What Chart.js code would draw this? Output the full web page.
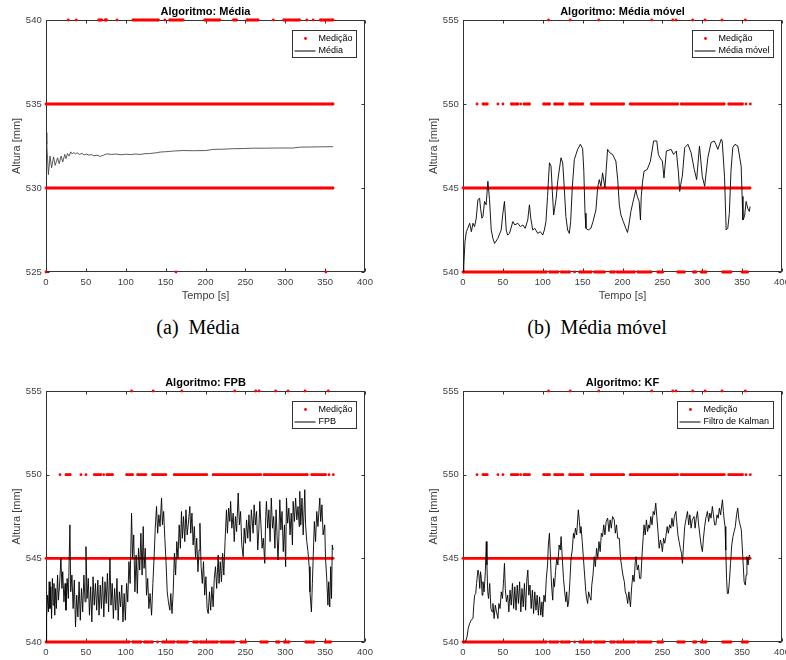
<!DOCTYPE html>
<html>
<head>
<meta charset="utf-8">
<script src="https://cdn.jsdelivr.net/npm/chart.js@4.4.1/dist/chart.umd.min.js"></script>
<style>
  body { margin: 0; background: #fff; width: 786px; height: 660px; position: relative; overflow: hidden; }
  .plot { position: absolute; }
  .cap { position: absolute; font-family: 'Liberation Serif', 'Times New Roman', serif; font-size: 20px; color: #000; white-space: nowrap; transform: translateX(-50%); }
</style>
</head>
<body>
<div class="plot" style="left:0;top:0;width:380px;height:303px"><canvas id="chartA"></canvas></div>
<div class="plot" style="left:417px;top:0;width:369px;height:303px"><canvas id="chartB"></canvas></div>
<div class="plot" style="left:0;top:371px;width:380px;height:289px"><canvas id="chartC"></canvas></div>
<div class="plot" style="left:417px;top:371px;width:369px;height:289px"><canvas id="chartD"></canvas></div>
<div class="cap" style="left:198px;top:316px">(a)&nbsp; Média</div>
<div class="cap" style="left:597px;top:316px">(b)&nbsp; Média móvel</div>
<script>
'use strict';

// ************************* TICKS **********************************
const timeTicks = [0, 50, 100, 150, 200, 250, 300, 350, 400];
const heightTicksA = [525, 530, 535, 540];
const heightTicksB = [540, 545, 550, 555];

// ************************* MEDIÇÃO (sensor readings) ***************
// a run is [start, end] in seconds, a single number is one isolated reading
const medA540 = [28, 38, [66, 70], [74, 76], 89, [109, 141], 149, [155, 172], [199, 218], [235, 239], [252, 266], 285, [298, 318], 327, 335, [344, 360]];
const medA535 = [[0, 360]];
const medA530 = [[0, 360]];
const medA525 = [0, 163, 351];

const med555 = [107.3, 134.4, 170.3, 236.7, 263, 267.2, 288, 303.5, 324.8, 354];
const med550 = [17.6, [25, 30.5], 43.8, 50.1, [60.6, 68.9], 72.3, [76.4, 83.5], [101, 108.6], [114.8, 125.2], [133.6, 150.3], [160.8, 201.6], [209.6, 269.2], [273.5, 327.7], [333.1, 350.6], 354.9, 360.3];
const med545 = [[0, 360]];
const med540 = [[0, 104.4], [108.6, 119], [123.2, 133.6], 139.9, [146.1, 160.8], [164.9, 177.5], [185, 190], [193.3, 215], [219.2, 235.9], [244.2, 250.5], [269.2, 277.6], [288.9, 292.3], [298.5, 304.8], [325.6, 336.1], [349.9, 356.9]];

// ************************* FILTER OUTPUTS *************************
const mediaTime = [0, 1, 3, 5, 7, 9.5, 11.5, 14.5, 16.5, 19, 21, 23.5, 25, 27, 29, 31, 33, 35, 37, 39, 42, 45, 48, 51, 54, 57, 60, 64, 68, 72, 76, 82, 88, 94, 100, 106, 112, 118, 124, 130, 139, 143, 150, 160, 172, 185, 200, 210, 222, 235, 248, 260, 275, 290, 310, 318, 330, 345, 360];
const mediaValue = [533.3, 532.6, 530.8, 531.9, 531.2, 531.85, 531.35, 531.8, 531.45, 531.9, 531.55, 532.0, 531.75, 532.05, 531.9, 532.15, 532.02, 532.12, 532.02, 532.1, 532.0, 532.06, 531.97, 532.02, 531.95, 531.99, 531.92, 531.95, 531.88, 531.95, 532.03, 532.0, 532.02, 531.98, 532.01, 531.99, 532.02, 532.0, 532.04, 532.05, 532.1, 532.14, 532.16, 532.2, 532.23, 532.22, 532.23, 532.3, 532.31, 532.34, 532.35, 532.37, 532.37, 532.38, 532.38, 532.43, 532.44, 532.45, 532.46];

const movelTime = [0, 1, 2.5, 4.2, 6, 8.4, 10.5, 12.5, 14.5, 16.6, 18.7, 20.8, 22, 23.7, 25, 27, 29, 31.2, 33.3, 35.4, 37.5, 39.6, 43.7, 47.9, 50, 52, 54.2, 56, 58.3, 62.5, 65, 68.7, 72, 75, 78, 81.2, 83.3, 85, 87.4, 90, 93.7, 97, 100, 102, 104, 106, 108.4, 110.4, 112, 113.7, 115, 116.6, 119, 122.9, 125, 127, 129, 131.2, 133.3, 135, 137, 139.6, 143.8, 147.1, 150, 151.5, 153, 154.2, 157, 160.4, 163, 166.7, 168.8, 170.9, 173, 175, 178, 181.3, 184, 187.5, 191.7, 194, 196, 198, 201, 204.2, 206.3, 208, 210.5, 213.8, 216.7, 218.5, 220.9, 222.5, 223.5, 225, 227, 231, 235, 239, 243, 245, 247, 250, 252, 255, 261, 264, 267.5, 270, 271.7, 273, 275, 278, 282, 286, 290, 293, 296.5, 300, 303, 307, 311, 315, 317, 319.6, 323.7, 325, 327.9, 329, 330, 332, 334, 336, 338.3, 341, 344.6, 348.8, 350, 351, 353, 355, 357, 359, 360];
const movelValue = [540.0, 540.4, 541.8, 542.4, 542.6, 542.9, 542.4, 542.9, 542.7, 543.2, 544.3, 544.4, 543.8, 543.2, 543.3, 544.2, 544.0, 545.4, 544.3, 542.5, 542.0, 541.7, 542.0, 542.5, 543.5, 544.2, 542.5, 542.2, 542.3, 543.0, 542.8, 542.9, 542.7, 542.8, 542.6, 543.1, 544.0, 543.2, 542.5, 542.6, 542.3, 542.4, 542.2, 542.5, 543.0, 544.5, 546.5, 546.3, 544.8, 543.4, 543.8, 544.3, 545.5, 546.8, 546.5, 545.0, 543.3, 542.5, 542.3, 543.0, 545.0, 546.7, 547.3, 547.6, 547.35, 546.0, 543.5, 542.6, 542.5, 542.6, 543.0, 543.7, 545.0, 545.5, 545.1, 545.9, 545.0, 547.3, 547.1, 547.0, 546.6, 545.5, 544.0, 543.4, 543.0, 542.6, 542.35, 542.8, 543.6, 544.3, 544.9, 544.5, 544.2, 543.1, 544.5, 545.3, 546.0, 546.1, 546.6, 547.8, 547.8, 547.0, 546.8, 546.6, 545.6, 547.2, 547.3, 547.0, 547.2, 546.0, 544.8, 545.2, 545.7, 547.4, 547.6, 547.1, 546.1, 545.5, 547.5, 545.7, 545.1, 546.8, 547.7, 547.8, 547.6, 547.3, 547.9, 547.8, 545.7, 544.0, 542.5, 542.6, 543.5, 546.0, 547.4, 547.6, 547.5, 546.3, 544.5, 543.1, 543.3, 544.2, 543.8, 543.6, 543.9];

const fpbTime = [0, 0.5, 1, 2, 3, 4, 5, 6, 7, 8, 9, 10, 11, 12, 13, 14.5, 15.5, 17, 18.7, 20, 21, 22.5, 24, 25, 26.5, 28, 30, 31, 32.5, 34, 35.5, 37, 38.5, 40, 41.5, 43, 44.5, 46, 47.5, 49, 50.1, 51.5, 53, 54.5, 56, 57.5, 59, 60.5, 62, 63.5, 65, 66.5, 68, 69.5, 71, 72.5, 74, 75.5, 77, 78.5, 80.2, 81.5, 83, 84.5, 86, 87.5, 89, 90.5, 92, 93.5, 95, 96.5, 98, 99.5, 101, 102.5, 104, 105.5, 107.3, 108.5, 110, 111.5, 113, 114.5, 116, 117.5, 119, 120.5, 121.9, 123, 124.5, 126, 127.5, 129, 130.5, 132.4, 134, 135.5, 137, 138.6, 140, 141.5, 143, 144.9, 146, 147.5, 149, 150.5, 152, 153.5, 155.3, 156.5, 158, 159.5, 161, 162.5, 164, 165.5, 167, 168.5, 169.9, 171, 172.5, 174, 175.5, 177, 178.5, 180.4, 181.5, 183, 184.5, 186, 187.5, 189, 190.5, 192, 193, 194.5, 196, 197.5, 199, 200.5, 202, 203.4, 205, 206.5, 208, 209.6, 211, 212.5, 214, 215.9, 217, 218.5, 220, 221.5, 223, 224.5, 226.3, 227.5, 229, 230.5, 231.5, 233, 234.7, 236, 237.5, 239, 241, 242.5, 244, 245.5, 247.2, 248.5, 250, 251.5, 253, 254.5, 256, 257.5, 259.7, 261, 262.5, 264, 265.5, 267, 268.1, 269.5, 271, 272.5, 274.3, 275.5, 276.4, 278, 279.5, 281, 282.5, 284, 285.5, 287, 288.5, 290.9, 292, 293.2, 294.5, 296, 297.5, 299, 300.5, 301.5, 303, 304.5, 306, 307.5, 309, 309.9, 311.5, 313, 314.5, 316, 317.5, 318.2, 319.5, 321, 322.5, 324.5, 325.5, 327, 328.5, 330, 331, 332.8, 334, 335, 336.5, 338, 339.5, 341, 343.3, 344.5, 346, 347.5, 349.5, 350.5, 352, 353.5, 354.5, 355.8, 357, 358, 359, 360];
const fpbValue = [540.2, 540.0, 541.5, 542.8, 541.8, 543.6, 542.0, 543.3, 541.4, 543.8, 542.2, 543.5, 541.6, 543.2, 542.0, 544.0, 542.5, 543.4, 545.0, 543.2, 544.2, 542.4, 543.5, 541.9, 543.8, 542.6, 547.0, 543.0, 544.0, 542.0, 543.7, 540.9, 542.8, 541.5, 543.6, 541.3, 543.2, 541.8, 544.0, 542.4, 545.7, 542.6, 543.8, 541.6, 543.3, 541.2, 543.9, 542.2, 543.5, 541.9, 543.7, 541.6, 543.4, 542.0, 543.9, 541.5, 543.6, 542.3, 544.1, 541.8, 545.0, 542.2, 543.5, 541.4, 543.2, 541.9, 543.8, 541.3, 543.0, 542.1, 543.4, 541.2, 542.9, 541.3, 543.5, 542.4, 544.8, 543.5, 547.7, 545.0, 546.4, 543.0, 545.2, 542.9, 545.6, 544.3, 546.5, 544.0, 546.9, 544.4, 545.6, 542.8, 543.8, 542.0, 542.9, 541.6, 543.5, 545.0, 546.8, 548.1, 546.5, 547.6, 546.9, 548.6, 547.0, 547.8, 546.2, 544.8, 543.0, 542.4, 541.9, 542.9, 541.7, 543.0, 545.3, 544.0, 546.0, 545.0, 547.0, 545.6, 547.8, 546.2, 547.5, 546.0, 547.9, 546.4, 547.1, 548.1, 546.5, 547.7, 545.8, 546.9, 545.0, 546.2, 544.2, 545.5, 547.1, 544.5, 543.5, 544.8, 542.8, 543.9, 542.0, 541.7, 543.0, 541.9, 543.3, 542.1, 543.8, 544.5, 543.2, 545.2, 543.5, 544.8, 543.6, 545.3, 544.0, 546.0, 547.9, 546.5, 548.0, 547.2, 548.4, 546.8, 547.7, 546.0, 547.5, 546.6, 548.9, 547.0, 547.8, 545.8, 545.1, 546.8, 545.9, 547.3, 546.2, 547.6, 546.0, 547.9, 546.5, 548.2, 547.0, 547.8, 545.5, 546.8, 548.4, 547.0, 545.6, 546.2, 544.7, 547.5, 548.4, 546.8, 547.9, 546.0, 548.6, 546.8, 547.5, 545.6, 547.9, 544.9, 546.3, 548.5, 546.7, 547.8, 545.4, 547.0, 544.5, 548.6, 547.1, 548.0, 546.4, 547.7, 545.8, 548.4, 547.2, 548.6, 547.3, 548.1, 546.9, 549.0, 547.0, 548.6, 546.4, 549.1, 547.0, 546.0, 545.4, 544.5, 543.0, 541.8, 543.5, 545.0, 547.2, 546.0, 547.8, 546.9, 548.6, 547.2, 548.2, 546.4, 547.0, 545.0, 543.8, 542.2, 543.6, 542.1, 544.5, 542.6, 545.8, 545.5];

const kfTime = [0, 3, 5, 6.5, 8.3, 10, 12.5, 13.5, 14.6, 16, 17, 18.8, 20, 21, 22, 23, 24, 25, 26.5, 28, 29.2, 30, 31, 32, 33.5, 35, 36.5, 37.5, 39, 40.5, 42, 43.8, 45, 46.5, 48, 49.5, 51, 52, 53, 54.5, 56, 57.5, 59, 60.5, 62, 63.5, 65, 66.5, 68, 69.5, 71, 72.5, 74, 75.5, 77, 78.5, 80, 81.3, 82.5, 84, 85.5, 87, 88.5, 90, 91.5, 93, 94.5, 96, 97.5, 99, 100, 101.5, 103, 104.5, 106, 107, 108.4, 109.5, 111, 112.5, 113.5, 114.7, 116, 117.5, 119, 120.5, 122, 123, 124.5, 126, 127.5, 129, 130, 131.3, 132.5, 134, 135.5, 137, 138.5, 139.6, 141, 142.5, 144.6, 146, 147, 148, 149.5, 151, 152.5, 154, 155, 156.3, 157.5, 159, 160.5, 161.5, 163, 164.6, 166, 167.5, 169, 170.5, 172, 173.5, 175, 176.5, 178, 179.5, 181.4, 183, 184.5, 186, 187.5, 189.7, 191, 192.5, 194, 196, 197.5, 199, 200.5, 202.3, 203.5, 205, 206.5, 208, 209, 210, 211.5, 213, 214.5, 216, 217, 218.5, 220, 221.5, 223, 224.5, 226, 227, 228.5, 230, 231.5, 233, 234, 235.5, 237, 238.5, 240, 241.7, 243, 244.5, 246, 247.5, 249, 250, 251.5, 253, 254.4, 256, 257.5, 259, 260.6, 262, 263.5, 265, 266.9, 268, 269.5, 271, 272.5, 274, 275.2, 276.5, 278, 279.5, 281.5, 283, 284.5, 286, 287.5, 289.8, 291, 292.5, 294, 295.5, 297, 298.5, 300.2, 301.5, 303, 304.5, 306.5, 308, 309.5, 311, 312.7, 314, 315.5, 317, 318.5, 320, 321.5, 323, 325.3, 326.5, 327.5, 328.6, 329.5, 330.5, 331.5, 332.7, 334, 335.5, 337, 338.5, 340, 341.5, 343, 344.5, 346, 347.5, 349, 350, 351.5, 352.5, 354, 355, 356, 357.5, 359, 360];
const kfValue = [540.0, 540.0, 540.3, 540.8, 541.1, 541.3, 541.4, 542.2, 542.8, 542.9, 543.5, 544.3, 544.0, 543.2, 544.2, 543.8, 542.8, 543.6, 543.0, 544.2, 546.0, 544.6, 543.0, 542.6, 543.5, 542.0, 541.8, 542.3, 541.4, 542.2, 541.8, 541.4, 542.3, 542.0, 543.0, 542.6, 543.8, 544.7, 543.2, 542.4, 542.8, 541.8, 543.1, 542.2, 543.5, 542.0, 543.3, 541.9, 543.4, 542.3, 543.6, 541.8, 543.2, 542.1, 543.5, 541.9, 543.7, 544.3, 542.8, 543.4, 542.0, 543.1, 541.7, 543.0, 541.9, 542.8, 541.6, 542.7, 541.6, 542.4, 541.5, 542.8, 542.4, 543.8, 544.6, 545.8, 546.5, 545.2, 543.4, 542.5, 543.8, 543.3, 544.2, 545.0, 544.6, 545.8, 545.5, 546.3, 545.0, 543.8, 543.0, 542.4, 543.0, 542.1, 542.4, 543.6, 545.0, 545.5, 546.5, 546.2, 546.8, 546.4, 547.9, 547.2, 546.5, 546.9, 546.0, 545.0, 544.0, 543.0, 542.6, 542.3, 543.0, 542.7, 542.5, 543.4, 544.0, 545.1, 544.5, 545.6, 545.0, 546.0, 545.4, 546.5, 546.3, 547.0, 546.4, 547.2, 547.4, 546.6, 547.3, 546.8, 547.5, 547.3, 546.5, 547.0, 546.2, 546.2, 545.0, 544.5, 544.0, 543.6, 543.0, 542.8, 542.3, 543.0, 542.5, 542.1, 543.3, 544.0, 543.6, 544.8, 545.1, 544.3, 544.6, 543.8, 543.8, 545.2, 546.3, 547.0, 546.4, 547.3, 546.6, 547.0, 546.8, 547.5, 547.0, 547.8, 547.6, 548.3, 547.5, 546.6, 545.6, 546.1, 545.8, 545.4, 546.2, 545.9, 546.3, 546.9, 546.5, 547.0, 546.8, 547.4, 546.9, 547.5, 547.8, 547.2, 546.4, 546.0, 545.6, 545.3, 544.7, 545.8, 546.9, 547.3, 547.8, 547.0, 547.6, 546.8, 547.3, 547.5, 546.8, 547.4, 547.8, 547.0, 546.4, 545.8, 545.4, 546.2, 546.9, 547.4, 547.8, 547.2, 547.7, 547.4, 548.1, 547.6, 547.0, 547.0, 547.6, 547.4, 548.0, 547.6, 548.5, 547.8, 547.3, 546.9, 545.5, 543.8, 542.9, 542.9, 543.6, 544.7, 545.8, 546.3, 546.6, 546.9, 547.6, 548.0, 547.3, 547.0, 546.7, 545.8, 544.5, 543.6, 543.4, 544.0, 545.1, 544.6, 545.2, 545.1];

// ************************ HELPER FUNCTIONS ********************************
const FONT = "'Liberation Sans', Arial, Helvetica, sans-serif";
const AXIS_GREY = '#404040';

const toPoints = (times, values) => times.map((t, i) => ({ x: t, y: values[i] }));

// every run becomes a short horizontal stroke, broken from the next one by a null
function runsToPoints(runs, level) {
  const pts = [];
  for (let run of runs) {
    const start = Array.isArray(run) ? run[0] : run;
    const end = Array.isArray(run) ? run[1] : run;
    pts.push({ x: start, y: level });
    if (end > start) pts.push({ x: end, y: level });
    pts.push({ x: end, y: null });
  }
  return pts;
}

// box, inward ticks, title and legend, drawn like the original figure
const framePlugin = {
  id: 'frame',
  beforeDatasetsDraw(chart) {
    const { ctx, chartArea: a, scales } = chart;
    ctx.save();
    ctx.strokeStyle = '#333';
    ctx.lineWidth = 1;
    const l = Math.round(a.left) + 0.5;
    const r = Math.round(a.right) - 0.5;
    const t = Math.round(a.top) + 0.5;
    const b = Math.round(a.bottom) - 0.5;
    ctx.strokeRect(l, t, r - l, b - t);
    ctx.beginPath();
    for (let v of timeTicks) {
      const px = Math.round(scales.x.getPixelForValue(v)) + 0.5;
      ctx.moveTo(px, b); ctx.lineTo(px, b - 3);
      ctx.moveTo(px, t); ctx.lineTo(px, t + 3);
    }
    for (let tick of scales.y.ticks) {
      const py = Math.round(scales.y.getPixelForValue(tick.value)) + 0.5;
      ctx.moveTo(l, py); ctx.lineTo(l + 3, py);
      ctx.moveTo(r, py); ctx.lineTo(r - 3, py);
    }
    ctx.stroke();
    ctx.restore();
  },
  afterDraw(chart, args, opts) {
    const { ctx, chartArea: a } = chart;
    ctx.save();
    ctx.fillStyle = '#000';
    ctx.font = 'bold 11px ' + FONT;
    ctx.textAlign = 'center';
    ctx.textBaseline = 'middle';
    ctx.fillText(opts.title, (a.left + a.right) / 2, a.top - 8);

    // legend
    ctx.font = '9px ' + FONT;
    const names = ['Medição', opts.lineName];
    const textW = Math.max(...names.map(n => ctx.measureText(n).width));
    const w = Math.round(30 + textW);
    const h = 27;
    const lx = Math.round(a.right - 9 - w) + 0.5;
    const ly = Math.round(a.top + 10) + 0.5;
    ctx.fillStyle = '#fff';
    ctx.fillRect(lx, ly, w, h);
    ctx.strokeStyle = '#333';
    ctx.lineWidth = 1;
    ctx.strokeRect(lx, ly, w, h);
    const row1 = ly + 8;
    const row2 = ly + 20.5;
    ctx.fillStyle = '#ff0000';
    ctx.beginPath();
    ctx.arc(lx + 13, row1, 1.4, 0, Math.PI * 2);
    ctx.fill();
    ctx.strokeStyle = '#000';
    ctx.beginPath();
    ctx.moveTo(lx + 2, row2);
    ctx.lineTo(lx + 23, row2);
    ctx.stroke();
    ctx.fillStyle = '#000';
    ctx.textAlign = 'left';
    ctx.fillText(names[0], lx + 26, row1);
    ctx.fillText(names[1], lx + 26, row2);
    ctx.restore();
  }
};

function makeChart(canvasId, cfg) {
  const datasets = [{
    label: cfg.lineName,
    data: toPoints(cfg.times, cfg.values),
    borderColor: cfg.lineColor,
    borderWidth: cfg.lineWidth,
    pointRadius: 0,
    tension: 0,
    order: 0
  }];
  cfg.levels.forEach(([runs, level]) => {
    datasets.push({
      label: 'Medição',
      data: runsToPoints(runs, level),
      borderColor: '#ff0000',
      backgroundColor: '#ff0000',
      borderWidth: 2.8,
      pointRadius: 1.4,
      pointBorderWidth: 0,
      spanGaps: false,
      clip: 4,
      order: 1
    });
  });
  return new Chart(document.getElementById(canvasId), {
    type: 'line',
    data: { datasets },
    options: {
      responsive: true,
      maintainAspectRatio: false,
      animation: false,
      events: [],
      layout: { padding: { top: 20, right: cfg.padRight, bottom: 0, left: 0 } },
      plugins: {
        legend: { display: false },
        tooltip: { enabled: false },
        frame: { title: cfg.title, lineName: cfg.lineName }
      },
      scales: {
        x: {
          type: 'linear',
          min: 0,
          max: 400,
          afterBuildTicks: scale => { scale.ticks = timeTicks.map(v => ({ value: v })); },
          afterFit: scale => { scale.height = cfg.xHeight; scale.paddingLeft = 0; scale.paddingRight = 0; },
          grid: { display: false, drawTicks: false },
          border: { display: false },
          ticks: { padding: 5, maxRotation: 0, autoSkip: false, color: AXIS_GREY, font: { size: 9.5 } },
          title: { display: cfg.showTime, text: 'Tempo [s]', color: AXIS_GREY, font: { size: 11 }, padding: { top: 0, bottom: 0 } }
        },
        y: {
          type: 'linear',
          min: cfg.yTicks[0],
          max: cfg.yTicks[cfg.yTicks.length - 1],
          afterBuildTicks: scale => { scale.ticks = cfg.yTicks.map(v => ({ value: v })); },
          afterFit: scale => { scale.width = 46; scale.paddingTop = 0; scale.paddingBottom = 0; },
          grid: { display: false, drawTicks: false },
          border: { display: false },
          ticks: { padding: 4.3, color: AXIS_GREY, font: { size: 9.5 } },
          title: { display: true, text: 'Altura [mm]', color: AXIS_GREY, font: { size: 11 }, padding: { top: 10, bottom: 0 } }
        }
      }
    },
    plugins: [framePlugin]
  });
}

// **************** EXECUTABLE CODE *************************
Chart.defaults.font.family = FONT;

const levelsB = [[med555, 555], [med550, 550], [med545, 545], [med540, 540]];

makeChart('chartA', {
  title: 'Algoritmo: Média', lineName: 'Média',
  times: mediaTime, values: mediaValue, lineColor: '#333', lineWidth: 0.8,
  levels: [[medA540, 540], [medA535, 535], [medA530, 530], [medA525, 525]],
  yTicks: heightTicksA, xHeight: 31, showTime: true, padRight: 15
});
makeChart('chartB', {
  title: 'Algoritmo: Média móvel', lineName: 'Média móvel',
  times: movelTime, values: movelValue, lineColor: '#000', lineWidth: 0.9,
  levels: levelsB, yTicks: heightTicksB, xHeight: 31, showTime: true, padRight: 3
});
makeChart('chartC', {
  title: 'Algoritmo: FPB', lineName: 'FPB',
  times: fpbTime, values: fpbValue, lineColor: '#000', lineWidth: 0.9,
  levels: levelsB, yTicks: heightTicksB, xHeight: 18, showTime: false, padRight: 15
});
makeChart('chartD', {
  title: 'Algoritmo: KF', lineName: 'Filtro de Kalman',
  times: kfTime, values: kfValue, lineColor: '#000', lineWidth: 0.9,
  levels: levelsB, yTicks: heightTicksB, xHeight: 18, showTime: false, padRight: 3
});
</script>
</body>
</html>
